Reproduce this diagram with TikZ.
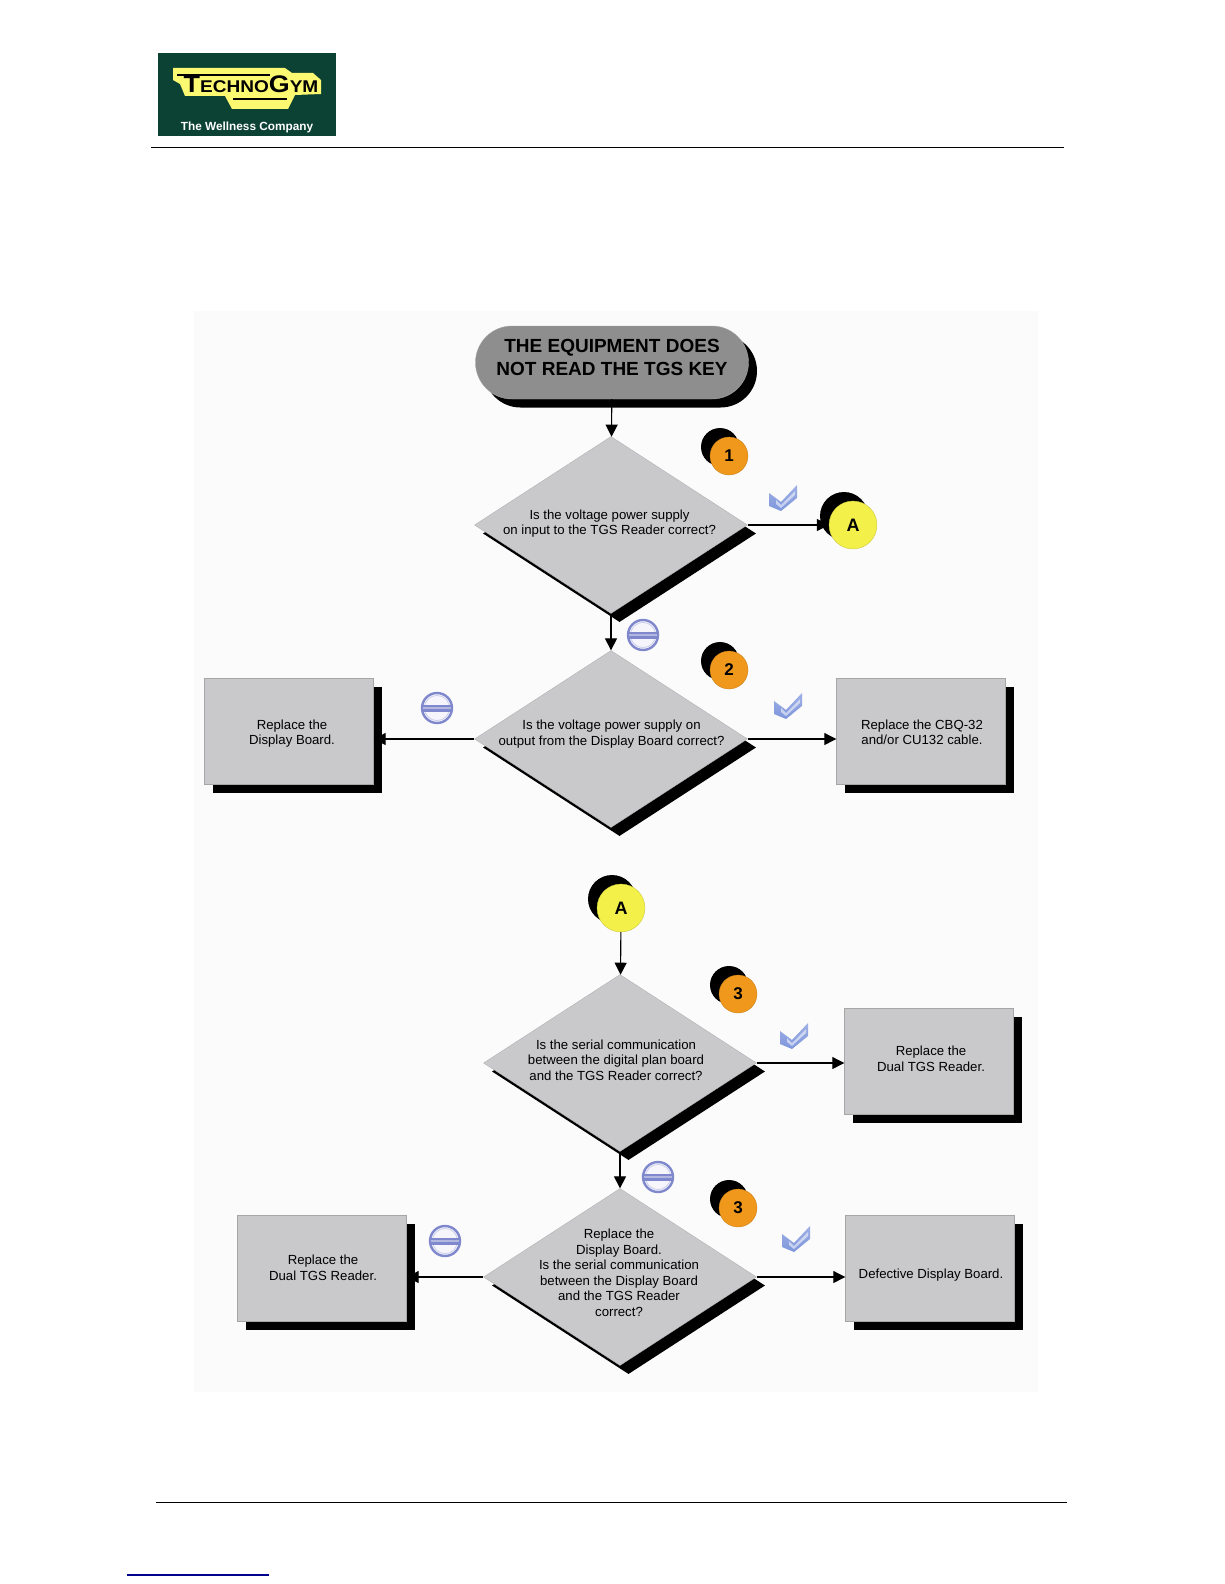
\documentclass[tikz,border=0pt]{standalone}
\usepackage{fontspec}
\setmainfont{Liberation Sans}
\usetikzlibrary{shapes.geometric,shapes.misc,shadows,arrows.meta}
% centred block of lines that takes no room in its node; #1,#2 nudge it in points
\newcommand\ctext[3]{\smash{\makebox[0pt]{\hspace*{\dimexpr 2\dimexpr #1pt\relax\relax}\raisebox{\dimexpr -0.25em + #2pt\relax}{\begin{tabular}{@{}c@{}}#3\end{tabular}}}}}
\definecolor{panelbg}{HTML}{FBFBFB}
\definecolor{boxgrey}{HTML}{C9C9CB}
\definecolor{pillgrey}{HTML}{8E8E8E}
\definecolor{orangec}{HTML}{F0981C}
\definecolor{yellowc}{HTML}{F4F04A}
\definecolor{logogreen}{HTML}{0C4234}
\definecolor{logoyellow}{HTML}{FBF872}
\definecolor{iconblue}{HTML}{7F88CC}
\definecolor{checkblue}{HTML}{7E96DC}
\tikzset{
  x=1pt,y=-1pt,
  body/.style={font=\fontsize{13.2}{15.6}\selectfont},
  hardshadow/.style={drop shadow={shadow xshift=8.5pt,shadow yshift=-8.5pt,fill=black,opacity=1}},
  question/.style={shape=diamond,body,hardshadow,fill=boxgrey,draw=boxgrey!85!black,line width=.3pt,
    aspect=1.55,inner sep=0pt,minimum width=273pt,minimum height=177pt,text=black},
  action/.style={rectangle,body,hardshadow,fill=boxgrey,draw=black!35,line width=.4pt,inner sep=0pt,
    minimum width=169pt,minimum height=106pt,text=black},
  startpill/.style={shape=rounded rectangle,hardshadow,fill=pillgrey,draw=pillgrey!80,line width=.4pt,
    minimum width=273pt,minimum height=73pt,inner sep=0pt,
    font=\fontsize{19}{23}\selectfont\bfseries,text=black},
  stepnum/.style={circle,fill=orangec,draw=orangec!80!black,line width=.3pt,minimum size=38pt,inner sep=0pt,
    font=\fontsize{17}{17}\selectfont\bfseries,
    drop shadow={shadow xshift=-9pt,shadow yshift=9pt,fill=black,opacity=1}},
  connector/.style={circle,fill=yellowc,draw=yellowc!80!black,line width=.3pt,minimum size=48pt,inner sep=0pt,
    font=\fontsize{18}{18}\selectfont\bfseries,
    drop shadow={shadow xshift=-9pt,shadow yshift=9pt,fill=black,opacity=1}},
  flow/.style={draw=black,line width=1.1pt,-{Triangle[length=12pt,width=12pt]}},
  rule/.style={draw=black,line width=1pt},
  checkicon/.pic={
    \shade[top color=checkblue!75!white,bottom color=checkblue,draw=none]
      (-14,-7)--(-2,2)--(14,-15)--(14,-2)--(-2,11)--(-14,6)--cycle;
    \fill[white,opacity=.55] (-7,0)--(-2,5)--(12,-9)--(12,-5)--(-2,8)--(-7,4)--cycle;
  },
  minusicon/.pic={
    \draw[draw=iconblue,line width=2.4pt,fill=iconblue!8!white] (0,0) circle (15);
    \draw[draw=iconblue!40!white,line width=.8pt] (0,0) circle (12.6);
    \fill[iconblue] (-15,-3.5) rectangle (15,3.5);
    \fill[white,opacity=.4] (-14,-1) rectangle (14,1);
  }
}
\begin{document}
\begin{tikzpicture}
\useasboundingbox (0,0) rectangle (1224,1584);
\fill[white] (0,0) rectangle (1224,1584);
\fill[panelbg] (194,311) rectangle (1038,1392);

% page furniture
\fill[logogreen] (158,53) rectangle (336,136);
\fill[logoyellow] (173,68)--(285,68)--(292,73)--(313,73)--(321,80)--(321,94)--(295,95)--(288,109)--(232,109)--(225,96)--(185,96)--(180,84)--(173,80)--cycle;
\node[inner sep=0pt,anchor=base,font=\bfseries,text=black] (brand) at (251,93)
  {\scalebox{1.12}[1]{\fontsize{24}{24}\selectfont T\fontsize{17}{17}\selectfont ECHNO\fontsize{24}{24}\selectfont G\fontsize{17}{17}\selectfont YM}};
\draw[black,line width=1.6pt] (177,75)--(270,75);
\draw[black,line width=1.6pt] (233,99)--(287,99);
\node[inner sep=0pt,text=white,font=\fontsize{11.8}{12}\selectfont\bfseries] (slogan) at (247,127.5) {The Wellness Company};
\draw[rule] (151,147.5)--(1064,147.5);
\draw[rule] (156,1502)--(1067,1502);
\draw[draw=blue!55!black,line width=1.3pt] (127,1575)--(269,1575);

% flow: first part
\node[startpill] (start) at (612,362.5) {\ctext{0}{4}{THE EQUIPMENT DOES\\NOT READ THE TGS KEY}};
\node[question] (d1) at (611,525) {\ctext{-1.5}{1.5}{Is the voltage power supply\\on input to the TGS Reader correct?}};
\node[question] (d2) at (611,739) {\ctext{0.5}{5}{Is the voltage power supply on\\output from the Display Board correct?}};
\node[action] (b1) at (289,731) {\ctext{3}{-2.5}{Replace the\\Display Board.}};
\node[action] (b2) at (921,731) {\ctext{1}{-2.5}{Replace the CBQ-32\\and/or CU132 cable.}};
\node[stepnum] (n1) at (729,456) {1};
\node[stepnum] (n2) at (729,670) {2};
\node[connector] (a1) at (853,525) {A};
\draw[flow] (start) -- (d1);
\draw[flow] (d1) -- (d2);
\draw[flow] (d1.east) -- (a1.west);
\draw[flow] (d2.west) -- (d2.west -| b1.east);
\draw[flow] (d2.east) -- (d2.east -| b2.west);
\pic at (783,500) {checkicon};
\pic at (788,708) {checkicon};
\pic at (643,635) {minusicon};
\pic at (437,708) {minusicon};

% flow: second part
\node[connector] (a2) at (621,908) {A};
\node[question] (d3) at (620,1063) {\ctext{-4}{1.5}{Is the serial communication\\between the digital plan board\\and the TGS Reader correct?}};
\node[question] (d4) at (620,1277) {\ctext{-1}{3}{Replace the\\Display Board.\\Is the serial communication\\between the Display Board\\and the TGS Reader\\correct?}};
\node[action] (b3) at (929,1061) {\ctext{2}{1}{Replace the\\Dual TGS Reader.}};
\node[action] (b4) at (322,1268) {\ctext{1}{-1}{Replace the\\Dual TGS Reader.}};
\node[action] (b5) at (930,1268) {\ctext{1}{-7}{Defective Display Board.}};
\node[stepnum] (n3) at (738,994) {3};
\node[stepnum] (n4) at (738,1208) {3};
\draw[flow] (a2) -- (d3);
\draw[flow] (d3) -- (d4);
\draw[flow] (d3.east) -- (d3.east -| b3.west);
\draw[flow] (d4.west) -- (d4.west -| b4.east);
\draw[flow] (d4.east) -- (d4.east -| b5.west);
\pic at (794,1038) {checkicon};
\pic at (796,1241) {checkicon};
\pic at (658,1177) {minusicon};
\pic at (445,1241) {minusicon};
\end{tikzpicture}
\end{document}
